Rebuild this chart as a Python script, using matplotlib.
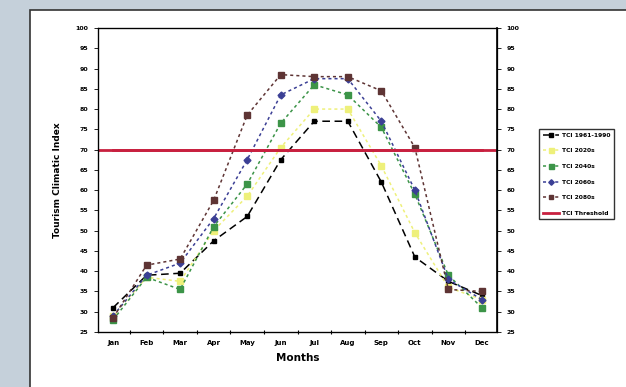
import matplotlib
matplotlib.use("Agg")
import matplotlib.pyplot as plt
from matplotlib.patches import Rectangle
import numpy as np

months = ["Jan", "Feb", "Mar", "Apr", "May", "Jun", "Jul", "Aug", "Sep", "Oct", "Nov", "Dec"]
tci_baseline = [31, 39, 39.5, 47.5, 53.5, 67.5, 77, 77, 62, 43.5, 37.5, 34]
tci_2020s = [29, 38.5, 37.5, 50, 58.5, 70.5, 80, 80, 66, 49.5, 36, 33]
tci_2040s = [28, 38.5, 35.5, 51, 61.5, 76.5, 86, 83.5, 75.5, 59, 39, 31]
tci_2060s = [29, 39, 42, 53, 67.5, 83.5, 87.5, 87.5, 77, 60, 38, 33]
tci_2080s = [28.5, 41.5, 43, 57.5, 78.5, 88.5, 88, 88, 84.5, 70.5, 35.5, 35]
threshold = [70] * 12
labels = ["TCI 1961-1990", "TCI 2020s", "TCI 2040s", "TCI 2060s", "TCI 2080s", "TCI Threshold"]
yticks = list(range(25, 101, 5))

fig = plt.figure(figsize=(6.26, 3.87), dpi=100)
fig.patch.set_facecolor("#c5d0da")
fig.patches.append(Rectangle((30 / 626, -0.01), 0.96, 1 - 10 / 387 + 0.01,
                             transform=fig.transFigure, facecolor="white",
                             edgecolor="#333333", linewidth=1.2, zorder=-5))

ax = fig.add_axes([98 / 626, 1 - 332 / 387, (497 - 98) / 626, (332 - 28) / 387])
x = np.arange(12)
styles = [
    (tci_baseline, "#000000", (0, (5, 3)), "s", 3.0),
    (tci_2020s, "#eef07a", (0, (2, 2)), "s", 4.5),
    (tci_2040s, "#3c9448", (0, (2, 2)), "s", 4.5),
    (tci_2060s, "#3b3f95", (0, (2, 2)), "D", 3.5),
    (tci_2080s, "#5e3434", (0, (2, 2)), "s", 4.0),
]
handles = []
for (vals, col, ls, mk, ms), lab in zip(styles, labels[:5]):
    h, = ax.plot(x, vals, color=col, linestyle=ls, linewidth=1.1, marker=mk,
                 markersize=ms, markeredgecolor=col, label=lab)
    handles.append(h)
h, = ax.plot(x, threshold, color="#c8203f", linewidth=2.0, label=labels[5])
ax.plot([-0.45, 11.45], [70, 70], color="#c8203f", linewidth=2.0)
handles.append(h)

ax.set_xlim(-0.45, 11.45)
ax.set_ylim(25, 100)
ax.set_yticks(yticks)
ax.set_yticklabels([str(v) for v in yticks], fontsize=4.5, fontweight="bold")
ax.set_xticks(x)
ax.set_xticklabels(months, fontsize=5, fontweight="bold")
ax.set_xticks(np.arange(0.5, 11, 1), minor=True)
ax.tick_params(axis="x", which="major", length=0, pad=6)
ax.tick_params(axis="x", which="minor", length=3, direction="inout", width=0.8)
ax.tick_params(axis="y", length=3, width=0.6, pad=4)
for s in ax.spines.values():
    s.set_linewidth(0.9)
ax.set_ylabel("Tourism Climatic Index", fontsize=6.5, fontweight="bold", labelpad=10)
ax.set_xlabel("Months", fontsize=7.5, fontweight="bold", labelpad=5)

ax2 = ax.twinx()
ax2.set_ylim(25, 100)
ax2.set_yticks(yticks)
ax2.set_yticklabels([str(v) for v in yticks], fontsize=4.5, fontweight="bold")
ax2.tick_params(axis="y", length=3, width=0.6, pad=4)
ax2.spines["right"].set_linewidth(1.2)

leg = fig.legend(handles=handles, labels=labels, loc="upper left",
                 bbox_to_anchor=(536 / 626, 1 - 126 / 387), fontsize=4.3,
                 frameon=True, fancybox=False, edgecolor="black",
                 handlelength=2.8, labelspacing=1.75, borderpad=0.6,
                 handletextpad=0.5, markerscale=0.8)
leg.get_frame().set_linewidth(1.0)
for t in leg.get_texts():
    t.set_fontweight("bold")

fig.savefig("out.png", dpi=100, facecolor=fig.get_facecolor())
